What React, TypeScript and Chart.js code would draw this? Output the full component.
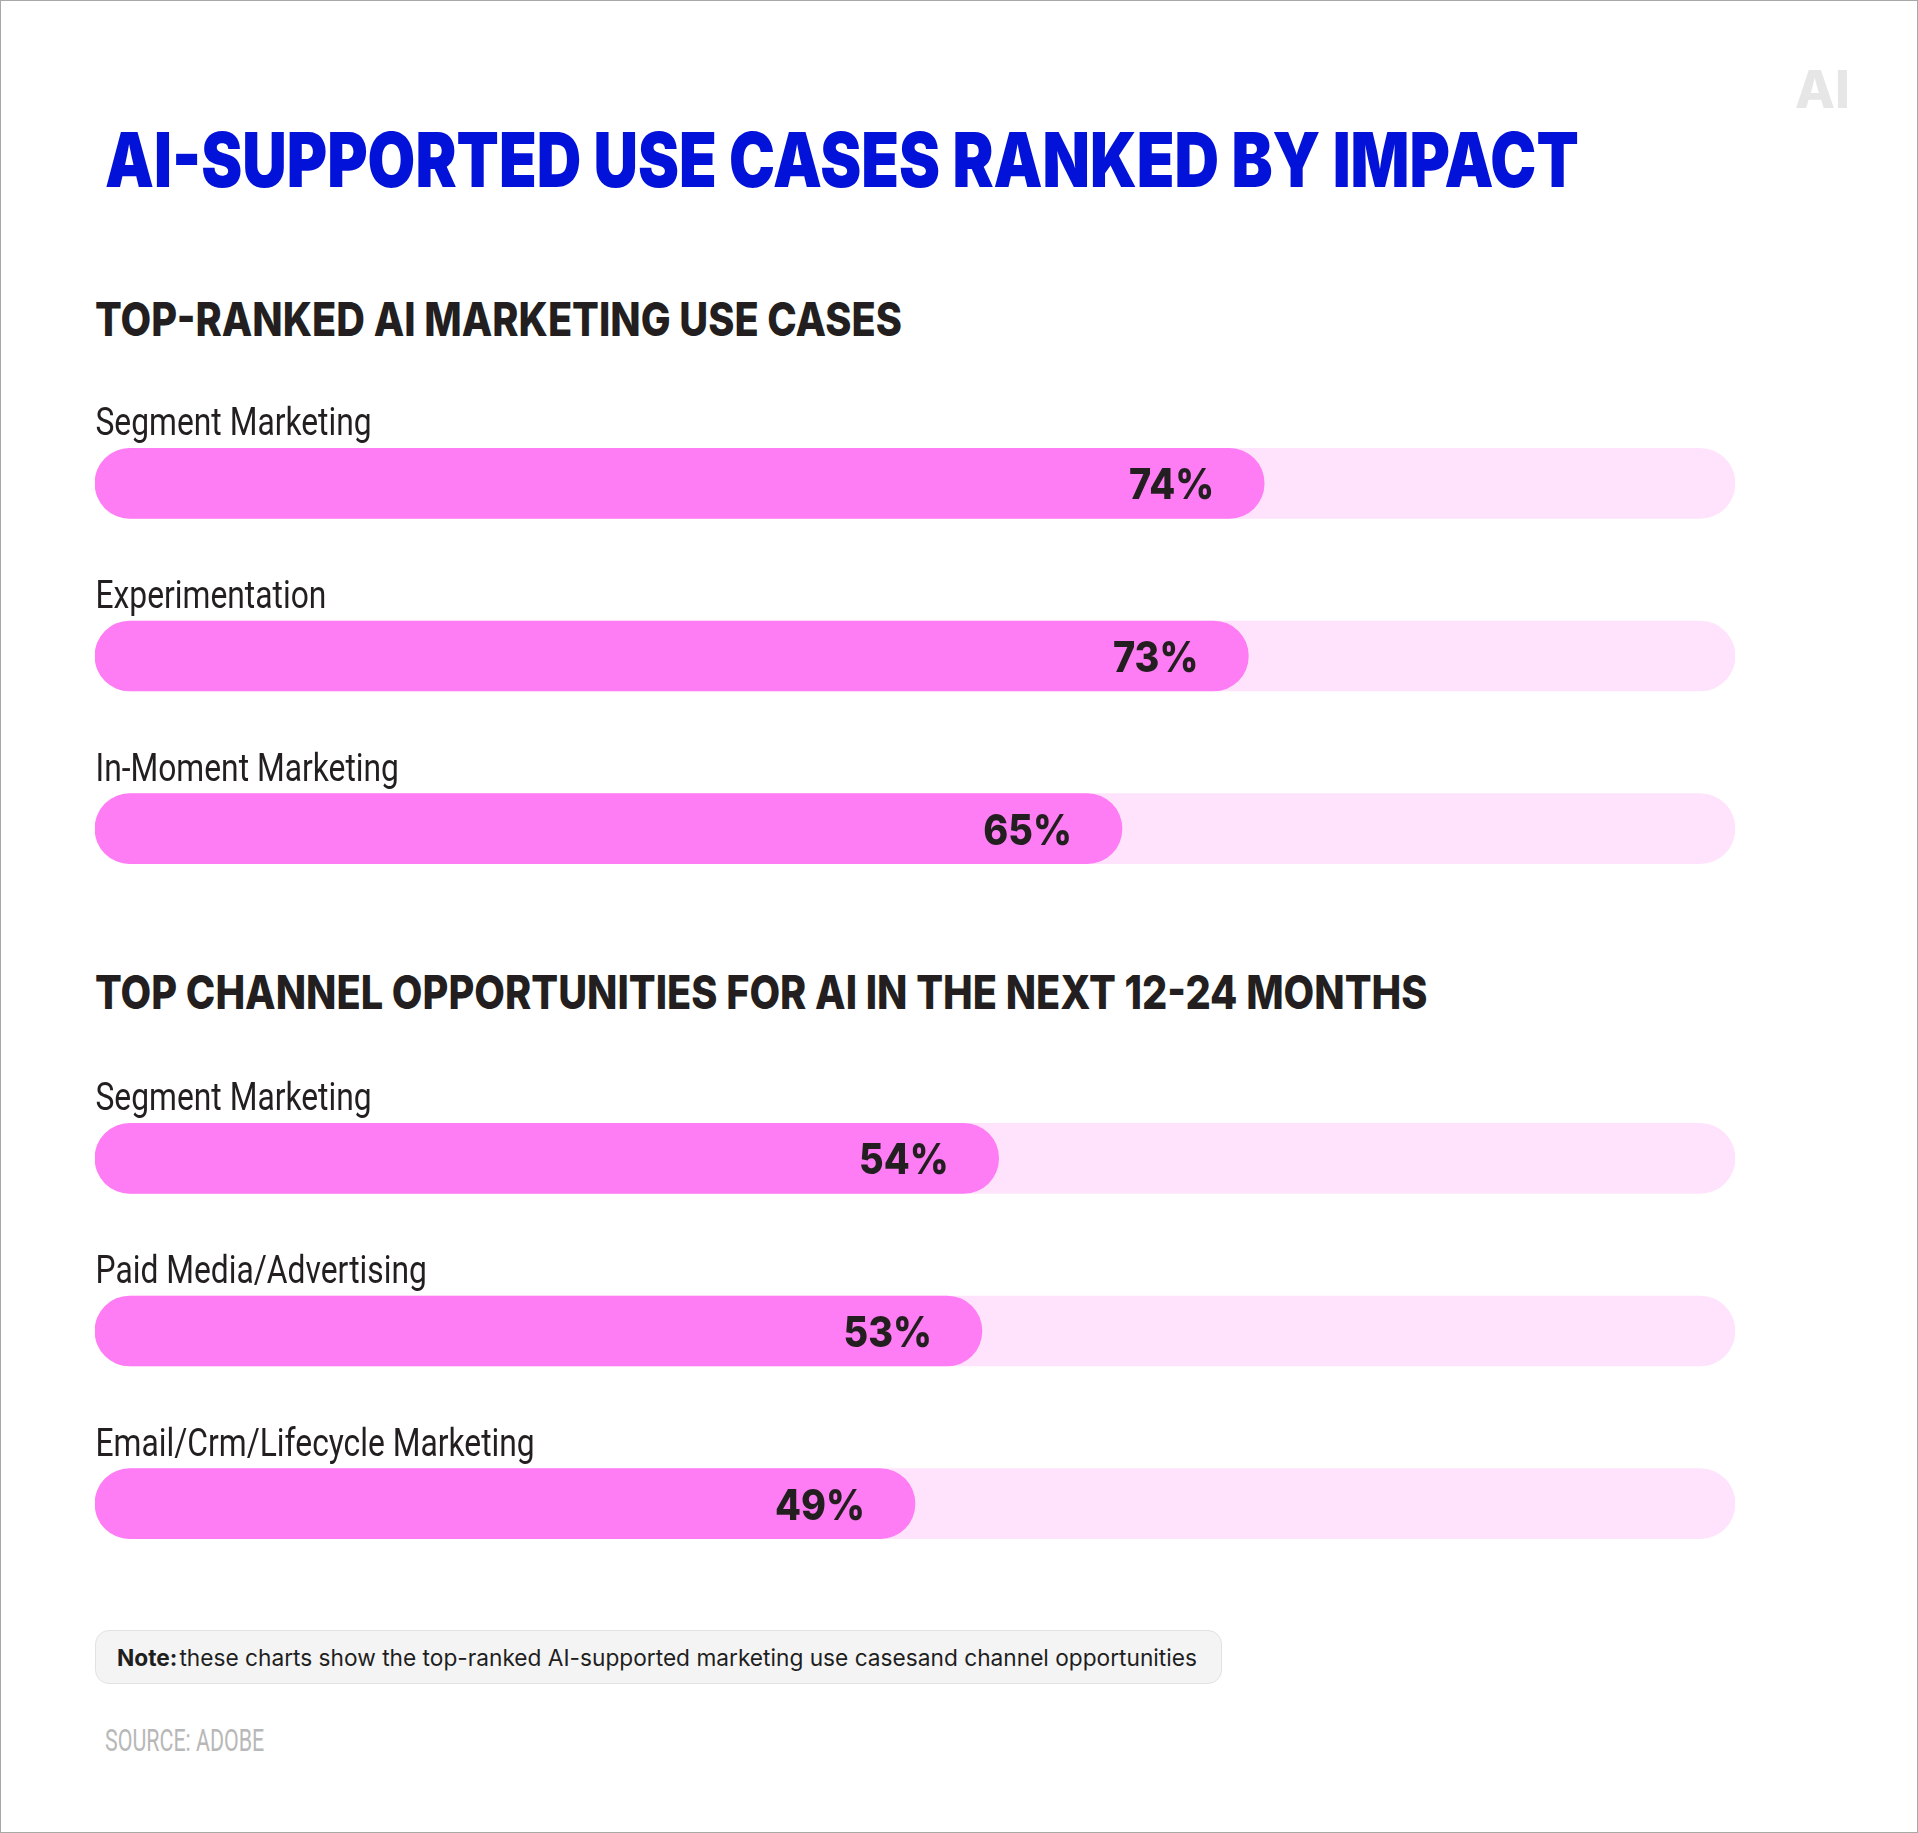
import React, { useEffect, useRef } from "react";
import { Chart, registerables } from "chart.js";

Chart.register(...registerables);

const titleText = "AI-SUPPORTED USE CASES RANKED BY IMPACT";
const section1Title = "TOP-RANKED AI MARKETING USE CASES";
const section2Title = "TOP CHANNEL OPPORTUNITIES FOR AI IN THE NEXT 12-24 MONTHS";

const useCaseLabels = ["Segment Marketing", "Experimentation", "In-Moment Marketing"];
const useCaseValues = [74, 73, 65];
const useCaseScaleMax = 103.8;

const channelLabels = ["Segment Marketing", "Paid Media/Advertising", "Email/Crm/Lifecycle Marketing"];
const channelValues = [54, 53, 49];
const channelScaleMax = 98;

const noteLead = "Note:";
const noteBody = "these charts show the top-ranked AI-supported marketing use casesand channel opportunities";
const sourceText = "SOURCE: ADOBE";

const FILL = "#ff7df4";
const TRACK = "#ffe3fc";
const INK = "#231f20";
const BLUE = "#0212d8";

const barLabelPlugin = {
  id: "barLabels",
  afterDatasetsDraw(chart: any) {
    const ctx = chart.ctx;
    const meta = chart.getDatasetMeta(0);
    const cats = chart.data.labels as string[];
    const vals = chart.data.datasets[0].data as number[];
    meta.data.forEach((bar: any, i: number) => {
      const { x, y, height } = bar.getProps(["x", "y", "height"], true);
      ctx.save();
      ctx.font = "400 39px Roboto";
      ctx.fillStyle = INK;
      ctx.textAlign = "left";
      ctx.textBaseline = "alphabetic";
      ctx.translate(chart.chartArea.left + 0.5, y - height / 2 - 13);
      ctx.scale(0.815, 1);
      ctx.fillText(cats[i], 0, 0);
      ctx.restore();

      ctx.save();
      ctx.font = "800 43px Inter";
      ctx.fillStyle = INK;
      ctx.textAlign = "right";
      ctx.textBaseline = "alphabetic";
      ctx.translate(x - 50, y + 16);
      ctx.scale(0.88, 1);
      ctx.fillText(`${vals[i]}%`, 0, 0);
      ctx.restore();
    });
  },
};

function BarChart({ labels, values, max, top }: { labels: string[]; values: number[]; max: number; top: number }) {
  const ref = useRef<HTMLCanvasElement | null>(null);
  useEffect(() => {
    if (!ref.current) return;
    const chart = new Chart(ref.current, {
      type: "bar",
      data: {
        labels,
        datasets: [
          {
            data: values,
            backgroundColor: FILL,
            borderRadius: 35,
            borderSkipped: false,
            barThickness: 70,
            order: 0,
            grouped: false,
          } as any,
          {
            data: labels.map(() => max),
            backgroundColor: TRACK,
            borderRadius: 35,
            borderSkipped: false,
            barThickness: 70,
            order: 1,
            grouped: false,
          } as any,
        ],
      },
      options: {
        indexAxis: "y",
        animation: false,
        responsive: false,
        devicePixelRatio: 1,
        layout: { padding: 0 },
        plugins: { legend: { display: false }, tooltip: { enabled: false } },
        scales: {
          x: { display: false, min: 0, max },
          y: { display: false },
        },
      },
      plugins: [barLabelPlugin],
    });
    return () => chart.destroy();
  }, []);
  return (
    <canvas
      ref={ref}
      width={1640}
      height={518}
      style={{ position: "absolute", left: 94, top, width: 1640, height: 518, display: "block" }}
    />
  );
}

const textBase: React.CSSProperties = {
  position: "absolute",
  margin: 0,
  whiteSpace: "nowrap",
  transformOrigin: "left top",
};

export default function App() {
  return (
    <div
      style={{
        position: "absolute",
        left: 0,
        top: 0,
        width: 1918,
        height: 1833,
        boxSizing: "border-box",
        border: "1px solid #a8a8a8",
        background: "#ffffff",
        overflow: "hidden",
      }}
    >
      <div
        style={{
          ...textBase,
          left: 1794,
          top: 63,
          fontFamily: "Inter",
          fontWeight: 800,
          fontSize: 52,
          lineHeight: "52px",
          color: "#e6e6e6",
        }}
      >
        AI
      </div>
      <div
        style={{
          ...textBase,
          left: 104,
          top: 120,
          fontFamily: "Inter",
          fontWeight: 900,
          fontSize: 76,
          lineHeight: "76px",
          color: BLUE,
          transform: "scaleX(0.811)",
        }}
      >
        {titleText}
      </div>
      <div
        style={{
          ...textBase,
          left: 94,
          top: 294,
          fontFamily: "Inter",
          fontWeight: 800,
          fontSize: 47,
          lineHeight: "47px",
          color: INK,
          transform: "scaleX(0.845)",
        }}
      >
        {section1Title}
      </div>
      <BarChart labels={useCaseLabels} values={useCaseValues} max={useCaseScaleMax} top={396} />
      <div
        style={{
          ...textBase,
          left: 94,
          top: 967,
          fontFamily: "Inter",
          fontWeight: 800,
          fontSize: 47,
          lineHeight: "47px",
          color: INK,
          transform: "scaleX(0.845)",
        }}
      >
        {section2Title}
      </div>
      <BarChart labels={channelLabels} values={channelValues} max={channelScaleMax} top={1071} />
      <div
        style={{
          position: "absolute",
          left: 94,
          top: 1629,
          width: 1127,
          height: 54,
          boxSizing: "border-box",
          background: "#f4f4f4",
          border: "1px solid #e2e2e2",
          borderRadius: 14,
          display: "flex",
          alignItems: "center",
          paddingLeft: 21,
          fontFamily: "Inter",
          fontSize: 22.7,
          color: "#1f1f1f",
          whiteSpace: "nowrap",
        }}
      >
        <span style={{ fontWeight: 700, marginRight: 2 }}>{noteLead}</span>
        <span style={{ fontWeight: 400 }}>{noteBody}</span>
      </div>
      <div
        style={{
          ...textBase,
          left: 104,
          top: 1724,
          fontFamily: "Roboto",
          fontWeight: 400,
          fontSize: 31,
          lineHeight: "31px",
          color: "#b8b8b8",
          transform: "scaleX(0.69)",
        }}
      >
        {sourceText}
      </div>
    </div>
  );
}
